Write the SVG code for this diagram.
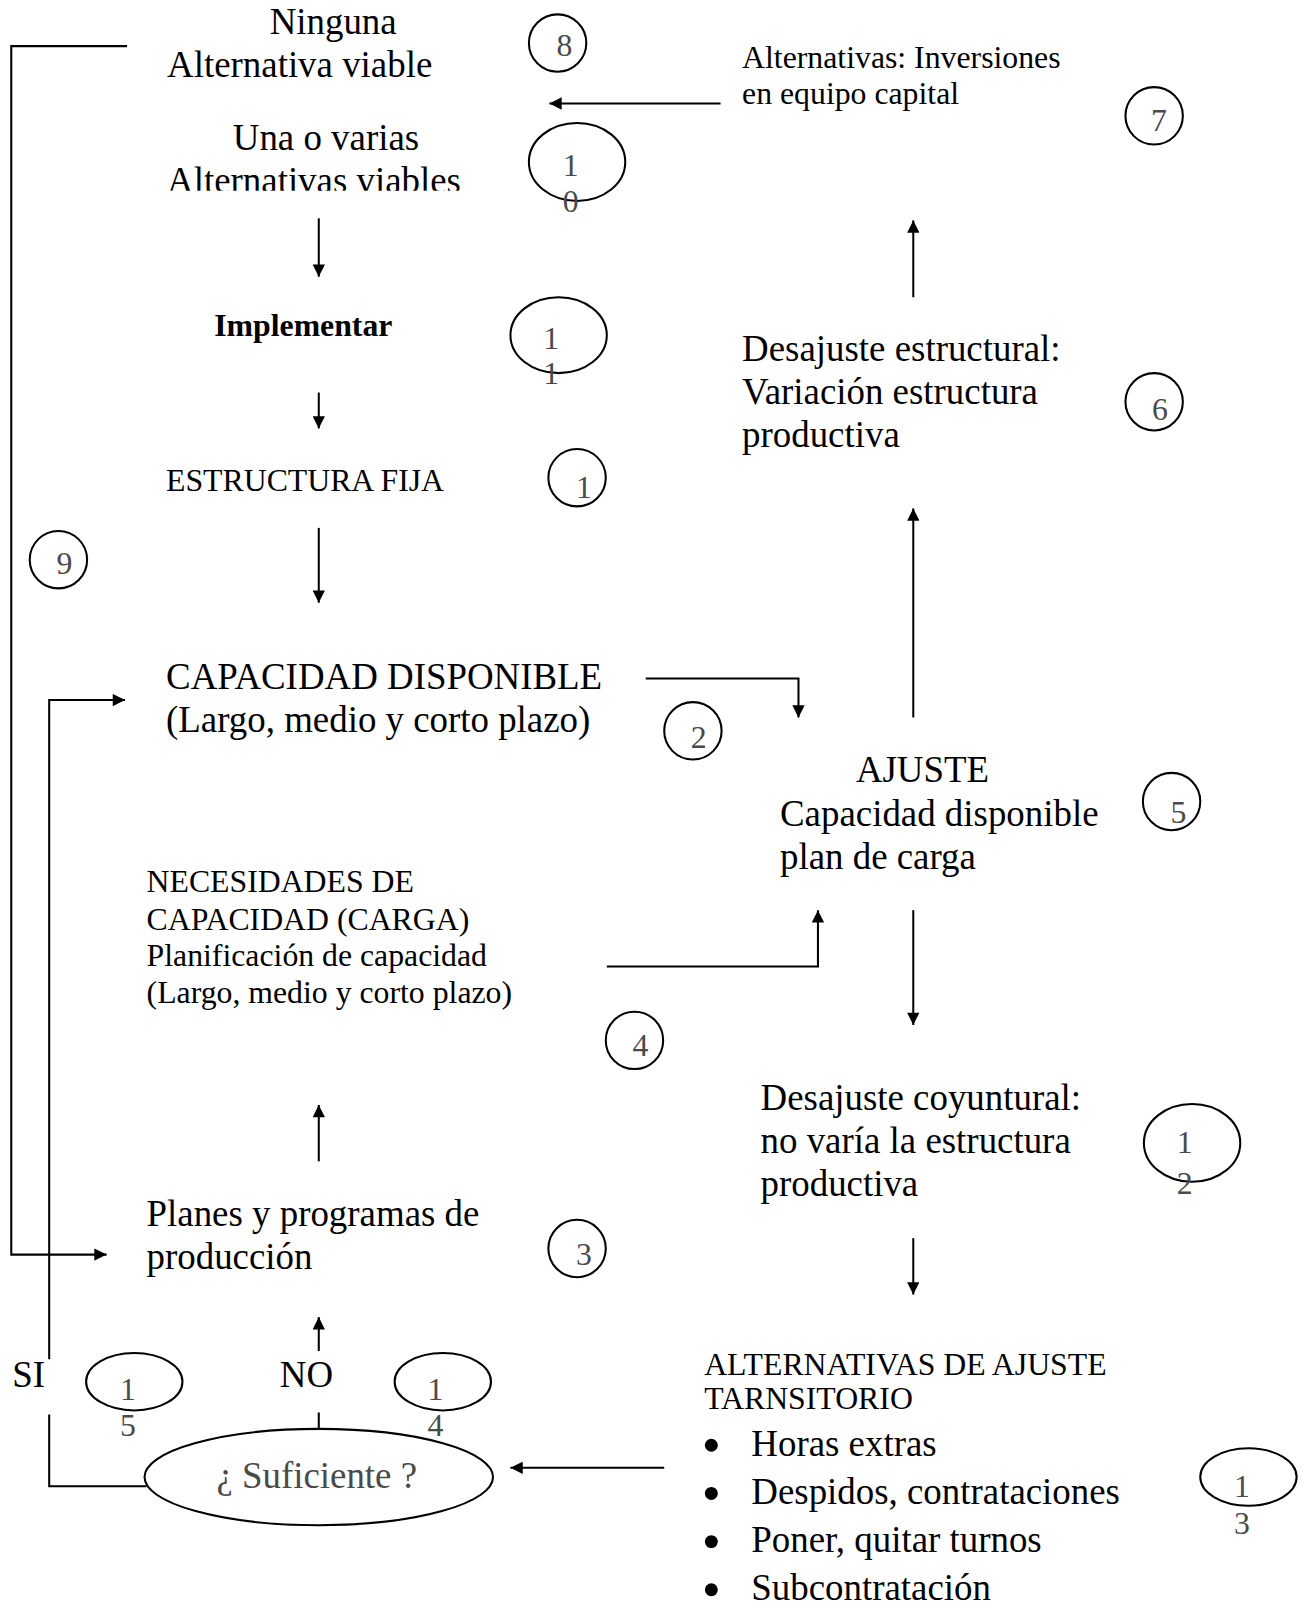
<svg xmlns="http://www.w3.org/2000/svg" width="1308" height="1607" viewBox="0 0 1308 1607">
<style>
.t{font-family:"Liberation Serif","Times New Roman",serif;fill:#000}
.b{font-size:36px}
.m{font-size:31px}
.n{font-family:"Liberation Serif","Times New Roman",serif;font-size:31px;fill:#4a4a4a}
.c{fill:none;stroke:#000;stroke-width:2}
.w{fill:none;stroke:#000;stroke-width:2}
.dot{fill:#000}
</style>
<defs>
<marker id="ah" viewBox="0 0 10 10" refX="10" refY="5" markerWidth="14" markerHeight="12" markerUnits="userSpaceOnUse" orient="auto"><path d="M0,0 L10,5 L0,10 z" fill="#000"/></marker>
<clipPath id="clip10"><rect x="100" y="150" width="400" height="36"/></clipPath>
</defs>
<rect width="1308" height="1607" fill="#fff"/>
<g transform="scale(1.025)">
<g id="connectors">
<path class="w" d="M124,45 H11 V1224 H104" marker-end="url(#ah)"/>
<path class="w" d="M703,101 H536" marker-end="url(#ah)"/>
<path class="w" d="M311,213 V270" marker-end="url(#ah)"/>
<path class="w" d="M311,383 V418" marker-end="url(#ah)"/>
<path class="w" d="M311,515 V588" marker-end="url(#ah)"/>
<path class="w" d="M630,662 H779 V700" marker-end="url(#ah)"/>
<path class="w" d="M48,1326 V683 H122" marker-end="url(#ah)"/>
<path class="w" d="M48,1380 V1450 H143"/>
<path class="w" d="M592,943 H798 V888" marker-end="url(#ah)"/>
<path class="w" d="M311,1133 V1078" marker-end="url(#ah)"/>
<path class="w" d="M311,1318 V1285" marker-end="url(#ah)"/>
<path class="w" d="M311,1378 V1394"/>
<path class="w" d="M648,1432 H498" marker-end="url(#ah)"/>
<path class="w" d="M891,290 V215" marker-end="url(#ah)"/>
<path class="w" d="M891,700 V496" marker-end="url(#ah)"/>
<path class="w" d="M891,888 V1000" marker-end="url(#ah)"/>
<path class="w" d="M891,1208 V1263" marker-end="url(#ah)"/>
</g>
<g id="n8">
<text class="t b" x="325" y="33" text-anchor="middle">Ninguna</text>
<text class="t b" x="163" y="75">Alternativa viable</text>
<ellipse class="c" cx="544" cy="42" rx="28" ry="28"/>
<text class="n" x="543" y="55">8</text>
</g>
<g id="n7">
<text class="t m" x="724" y="66">Alternativas: Inversiones</text>
<text class="t m" x="724" y="101">en equipo capital</text>
<ellipse class="c" cx="1126" cy="113" rx="28" ry="28"/>
<text class="n" x="1123" y="128">7</text>
</g>
<g id="n10">
<text class="t b" x="318" y="146" text-anchor="middle">Una o varias</text>
<text class="t b" x="163" y="188" clip-path="url(#clip10)">Alternativas viables</text>
<ellipse class="c" cx="563" cy="158" rx="47" ry="38"/>
<text class="n" x="549" y="172">1</text>
<text class="n" x="549" y="207">0</text>
</g>
<g id="n11">
<text class="t m" x="209" y="328" font-weight="bold">Implementar</text>
<ellipse class="c" cx="545" cy="327" rx="47" ry="37"/>
<text class="n" x="530" y="340">1</text>
<text class="n" x="530" y="375">1</text>
</g>
<g id="n1">
<text class="t m" x="162" y="479">ESTRUCTURA FIJA</text>
<ellipse class="c" cx="563" cy="466" rx="28" ry="28"/>
<text class="n" x="562" y="486">1</text>
</g>
<g id="n9">
<ellipse class="c" cx="57" cy="546" rx="28" ry="28"/>
<text class="n" x="55" y="560">9</text>
</g>
<g id="n2">
<text class="t b" x="162" y="672">CAPACIDAD DISPONIBLE</text>
<text class="t b" x="162" y="714">(Largo, medio y corto plazo)</text>
<ellipse class="c" cx="676" cy="713" rx="28" ry="28"/>
<text class="n" x="674" y="730">2</text>
</g>
<g id="n4">
<text class="t m" x="143" y="870">NECESIDADES DE</text>
<text class="t m" x="143" y="907">CAPACIDAD (CARGA)</text>
<text class="t m" x="143" y="942">Planificación de capacidad</text>
<text class="t m" x="143" y="979">(Largo, medio y corto plazo)</text>
<ellipse class="c" cx="619" cy="1015" rx="28" ry="28"/>
<text class="n" x="617" y="1030">4</text>
</g>
<g id="n3">
<text class="t b" x="143" y="1196">Planes y programas de</text>
<text class="t b" x="143" y="1238">producción</text>
<ellipse class="c" cx="563" cy="1218" rx="28" ry="28"/>
<text class="n" x="562" y="1234">3</text>
</g>
<g id="n15">
<text class="t b" x="12" y="1353">SI</text>
<ellipse class="c" cx="131" cy="1348" rx="47" ry="28"/>
<text class="n" x="117" y="1366">1</text>
<text class="n" x="117" y="1401">5</text>
</g>
<g id="n14">
<text class="t b" x="273" y="1353">NO</text>
<ellipse class="c" cx="432" cy="1348" rx="47" ry="28"/>
<text class="n" x="417" y="1366">1</text>
<text class="n" x="417" y="1401">4</text>
</g>
<g id="suficiente">
<ellipse class="c" cx="311" cy="1441" rx="170" ry="47"/>
<text class="t b" x="309" y="1452" text-anchor="middle" style="fill:#4a4a4a">¿ Suficiente ?</text>
</g>
<g id="n6">
<text class="t b" x="724" y="352">Desajuste estructural:</text>
<text class="t b" x="724" y="394">Variación estructura</text>
<text class="t b" x="724" y="436">productiva</text>
<ellipse class="c" cx="1126" cy="392" rx="28" ry="28"/>
<text class="n" x="1124" y="410">6</text>
</g>
<g id="n5">
<text class="t b" x="835" y="763">AJUSTE</text>
<text class="t b" x="761" y="806">Capacidad disponible</text>
<text class="t b" x="761" y="848">plan de carga</text>
<ellipse class="c" cx="1143" cy="782" rx="28" ry="28"/>
<text class="n" x="1142" y="803">5</text>
</g>
<g id="n12">
<text class="t b" x="742" y="1083">Desajuste coyuntural:</text>
<text class="t b" x="742" y="1125">no varía la estructura</text>
<text class="t b" x="742" y="1167">productiva</text>
<ellipse class="c" cx="1163" cy="1115" rx="47" ry="38"/>
<text class="n" x="1148" y="1125">1</text>
<text class="n" x="1148" y="1165">2</text>
</g>
<g id="n13">
<text class="t m" x="687" y="1341">ALTERNATIVAS DE AJUSTE</text>
<text class="t m" x="687" y="1375">TARNSITORIO</text>
<circle class="dot" cx="694" cy="1410" r="6.3"/>
<text class="t b" x="733" y="1420">Horas extras</text>
<circle class="dot" cx="694" cy="1457" r="6.3"/>
<text class="t b" x="733" y="1467">Despidos, contrataciones</text>
<circle class="dot" cx="694" cy="1504" r="6.3"/>
<text class="t b" x="733" y="1514">Poner, quitar turnos</text>
<circle class="dot" cx="694" cy="1551" r="6.3"/>
<text class="t b" x="733" y="1561">Subcontratación</text>
<ellipse class="c" cx="1218" cy="1441" rx="47" ry="28"/>
<text class="n" x="1204" y="1460">1</text>
<text class="n" x="1204" y="1497">3</text>
</g>
</g>
</svg>
